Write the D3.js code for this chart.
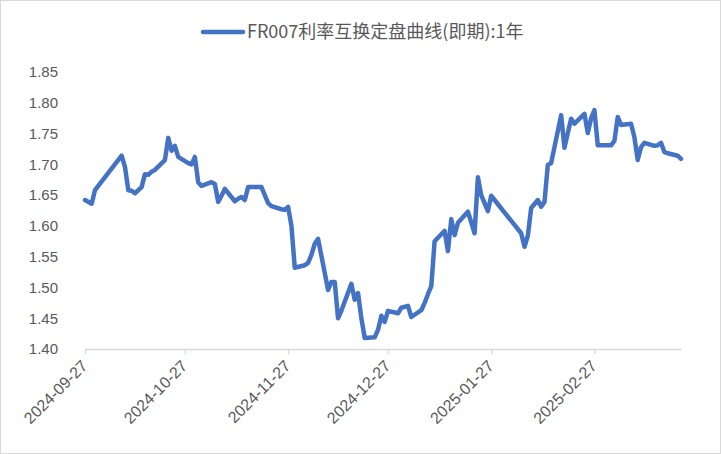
<!DOCTYPE html>
<html>
<head>
<meta charset="utf-8">
<script src="https://cdn.jsdelivr.net/npm/d3@7"></script>
<style>
  html, body { margin: 0; padding: 0; background: #fff; }
  svg { display: block; }
</style>
</head>
<body>
<svg id="chart" width="721" height="454"></svg>
<script>
const seriesName = "FR007利率互换定盘曲线(即期):1年";
const dates = [
  "2024-09-27","2024-09-29","2024-09-30","2024-10-08","2024-10-09","2024-10-10","2024-10-11","2024-10-12",
  "2024-10-14","2024-10-15","2024-10-16","2024-10-17","2024-10-18","2024-10-21","2024-10-22","2024-10-23",
  "2024-10-24","2024-10-25","2024-10-28","2024-10-29","2024-10-30","2024-10-31","2024-11-01","2024-11-04",
  "2024-11-05","2024-11-06","2024-11-07","2024-11-08","2024-11-11","2024-11-12","2024-11-13","2024-11-14",
  "2024-11-15","2024-11-18","2024-11-19","2024-11-20","2024-11-21","2024-11-22","2024-11-25","2024-11-26",
  "2024-11-27","2024-11-28","2024-11-29","2024-12-02","2024-12-03","2024-12-04","2024-12-05","2024-12-06",
  "2024-12-09","2024-12-10","2024-12-11","2024-12-12","2024-12-13","2024-12-16","2024-12-17","2024-12-18",
  "2024-12-19","2024-12-20","2024-12-23","2024-12-24","2024-12-25","2024-12-26","2024-12-27","2024-12-30",
  "2024-12-31","2025-01-02","2025-01-03","2025-01-06","2025-01-07","2025-01-08","2025-01-09","2025-01-10",
  "2025-01-13","2025-01-14","2025-01-15","2025-01-16","2025-01-17","2025-01-20","2025-01-21","2025-01-22",
  "2025-01-23","2025-01-24","2025-01-26","2025-01-27","2025-02-05","2025-02-06","2025-02-07","2025-02-08",
  "2025-02-10","2025-02-11","2025-02-12","2025-02-13","2025-02-14","2025-02-17","2025-02-18","2025-02-19",
  "2025-02-20","2025-02-21","2025-02-24","2025-02-25","2025-02-26","2025-02-27","2025-02-28","2025-03-03",
  "2025-03-04","2025-03-05","2025-03-06","2025-03-07","2025-03-10","2025-03-11","2025-03-12","2025-03-13",
  "2025-03-14","2025-03-17","2025-03-18","2025-03-19","2025-03-20","2025-03-21","2025-03-24","2025-03-25"
];
const values = [
  1.642,1.636,1.658,1.714,1.696,1.658,1.657,1.653,
  1.663,1.684,1.683,1.688,1.691,1.707,1.743,1.722,
  1.730,1.712,1.702,1.700,1.712,1.671,1.665,1.671,
  1.668,1.639,1.649,1.660,1.640,1.644,1.647,1.642,
  1.663,1.663,1.663,1.650,1.637,1.632,1.627,1.626,
  1.631,1.600,1.532,1.536,1.540,1.553,1.571,1.579,
  1.496,1.509,1.509,1.450,1.462,1.506,1.480,1.491,
  1.450,1.418,1.419,1.431,1.454,1.444,1.462,1.458,
  1.467,1.470,1.452,1.463,1.475,1.489,1.502,1.575,
  1.592,1.559,1.611,1.585,1.605,1.623,1.606,1.588,
  1.679,1.650,1.624,1.649,1.588,1.566,1.584,1.629,
  1.642,1.631,1.639,1.699,1.702,1.780,1.727,1.751,
  1.774,1.766,1.782,1.751,1.775,1.788,1.731,1.731,
  1.731,1.738,1.777,1.764,1.766,1.744,1.707,1.728,
  1.735,1.730,1.731,1.735,1.720,1.718,1.714,1.709
];
const xTickLabels = ["2024-09-27","2024-10-27","2024-11-27","2024-12-27","2025-01-27","2025-02-27"];
const yTicks = [1.40,1.45,1.50,1.55,1.60,1.65,1.70,1.75,1.80,1.85];
const xDomain = ["2024-09-27","2025-03-25"];
const yDomain = [1.40,1.85];

const parse = d3.timeParse("%Y-%m-%d");
const data = dates.map((d, i) => ({ date: parse(d), value: values[i] }));

const svg = d3.select("#chart");
const W = 721, H = 454;
const plot = { left: 85, right: 681, top: 72, bottom: 349 };

// chart border
svg.append("rect").attr("x", 0.5).attr("y", 0.5).attr("width", W - 1).attr("height", H - 1)
  .attr("fill", "#fff").attr("stroke", "#d9d9d9").attr("stroke-width", 1);

const x = d3.scaleTime().domain(xDomain.map(parse)).range([plot.left, plot.right]);
const y = d3.scaleLinear().domain(yDomain).range([plot.bottom, plot.top]);

const labelColor = "#595959";
const axisFont = "'Liberation Sans', Arial, sans-serif";

// y axis labels (no axis line)
const yAxis = d3.axisLeft(y).tickValues(yTicks).tickFormat(d3.format(".2f")).tickSize(0).tickPadding(0);
const yg = svg.append("g").attr("transform", `translate(${plot.left - 27},0)`).call(yAxis);
yg.select(".domain").remove();
yg.selectAll("text").attr("fill", labelColor).style("font-family", axisFont).style("font-size", "15px");

// x axis
const xAxis = d3.axisBottom(x).tickValues(xTickLabels.map(parse)).tickFormat(d3.timeFormat("%Y-%m-%d"))
  .tickSize(5).tickSizeOuter(0);
const xg = svg.append("g").attr("transform", `translate(0,${plot.bottom})`).call(xAxis);
xg.select(".domain").attr("stroke", "#d9d9d9").attr("stroke-width", 1.3);
xg.selectAll(".tick line").attr("stroke", "#d9d9d9").attr("stroke-width", 1.3);
xg.selectAll("text")
  .attr("fill", labelColor).style("font-family", axisFont).style("font-size", "16px")
  .attr("text-anchor", "end").attr("dy", "0.35em").attr("y", 0)
  .attr("transform", "translate(-1,14) rotate(-45)");

// line
const line = d3.line().x(d => x(d.date)).y(d => y(d.value));
svg.append("path").datum(data).attr("d", line)
  .attr("fill", "none").attr("stroke", "#4472C4").attr("stroke-width", 4.5)
  .attr("stroke-linejoin", "round").attr("stroke-linecap", "round");

// legend
const lg = svg.append("g");
lg.append("line").attr("x1", 203).attr("x2", 243).attr("y1", 32).attr("y2", 32)
  .attr("stroke", "#4472C4").attr("stroke-width", 4.5).attr("stroke-linecap", "round");
lg.append("text").attr("x", 247).attr("y", 32).attr("dy", "0.35em")
  .attr("fill", labelColor).style("font-family", "'Noto Sans CJK SC', sans-serif").style("font-size", "18px")
  .text(seriesName);
</script>
</body>
</html>
